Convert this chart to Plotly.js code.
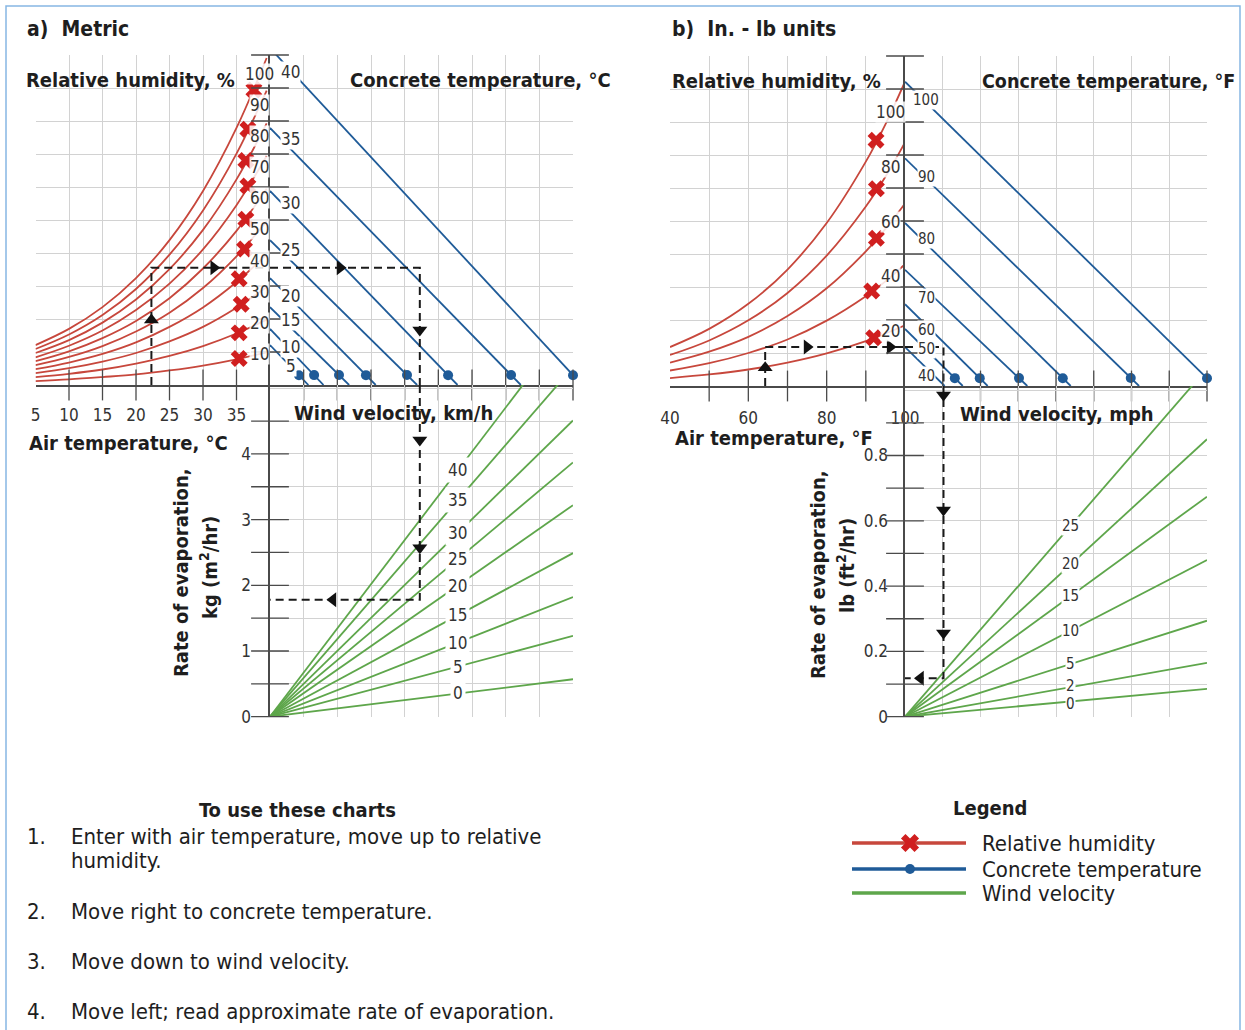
<!DOCTYPE html>
<html><head><meta charset="utf-8">
<script src="https://cdn.plot.ly/plotly-3.0.1.min.js"></script>
<style>html,body{margin:0;padding:0;background:#fff}#chart{width:1245px;height:1030px}</style>
</head><body><div id="chart"></div>
<script>
// ---------------- DATA: panel a (metric) ----------------
const airTempC = [5, 10, 15, 20, 25, 30, 35, 39.5];
const rhLevelsA = [100, 90, 80, 70, 60, 50, 40, 30, 20, 10];
const rhA100 = [1.21, 1.70, 2.36, 3.24, 4.39, 5.88, 7.79, 9.91];
const rhA90  = [1.09, 1.53, 2.12, 2.91, 3.95, 5.29, 7.01, 8.92];
const rhA80  = [0.97, 1.36, 1.89, 2.59, 3.51, 4.70, 6.23, 7.93];
const rhA70  = [0.84, 1.19, 1.65, 2.27, 3.07, 4.11, 5.45, 6.94];
const rhA60  = [0.72, 1.02, 1.42, 1.94, 2.63, 3.53, 4.67, 5.95];
const rhA50  = [0.60, 0.85, 1.18, 1.62, 2.19, 2.94, 3.90, 4.96];
const rhA40  = [0.48, 0.68, 0.94, 1.29, 1.76, 2.35, 3.12, 3.96];
const rhA30  = [0.36, 0.51, 0.71, 0.97, 1.32, 1.76, 2.34, 2.97];
const rhA20  = [0.24, 0.34, 0.47, 0.65, 0.88, 1.18, 1.56, 1.98];
const rhA10  = [0.12, 0.17, 0.24, 0.32, 0.44, 0.59, 0.78, 0.99];
const rhMarkTempA  = [37.6, 36.7, 36.4, 36.7, 36.4, 36.2, 35.4, 35.7, 35.4, 35.4];
const rhMarkLevelA = [8.94, 7.75, 6.80, 6.03, 5.02, 4.12, 3.22, 2.45, 1.58, 0.80];

const concTempC  = [5, 10, 15, 20, 25, 30, 35, 40];
const concStartA = [1.21, 1.70, 2.36, 3.24, 4.39, 5.88, 7.79, 10.21];
const concEndA   = [1.14, 1.59, 2.35, 3.14, 4.37, 5.57, 7.45, 9.27];
const concDotA   = [0.86, 1.31, 2.05, 2.85, 4.07, 5.29, 7.16, 9.0];

const windKmh   = [0, 5, 10, 15, 20, 25, 30, 35, 40];
const windRateA = [0.57, 1.23, 1.82, 2.49, 3.22, 3.87, 4.51, 5.32, 6.05];

const airTicksC  = [5, 10, 15, 20, 25, 30, 35];
const evapTicksA = [0, 1, 2, 3, 4];

const exampleA = {airTemp: 22.3, level: 3.55, wind: 4.45, rate: 1.78};

// ---------------- DATA: panel b (in.-lb) ----------------
const airTempF = [40, 50, 60, 70, 80, 90, 95, 100];
const rhLevelsB = [100, 80, 60, 40, 20];
const rhB100 = [1.18, 1.73, 2.49, 3.53, 4.94, 6.80, 7.93, 9.22];
const rhB80  = [0.94, 1.38, 1.99, 2.82, 3.95, 5.44, 6.34, 7.38];
const rhB60  = [0.71, 1.04, 1.49, 2.12, 2.96, 4.08, 4.76, 5.53];
const rhB40  = [0.47, 0.69, 1.00, 1.41, 1.98, 2.72, 3.17, 3.69];
const rhB20  = [0.24, 0.35, 0.50, 0.71, 0.99, 1.36, 1.59, 1.84];
const rhMarkTempB  = [92.6, 92.7, 92.7, 91.5, 92.0];
const rhMarkLevelB = [7.45, 5.98, 4.48, 2.88, 1.46];

const concTempF  = [40, 50, 60, 70, 80, 90, 100];
const concStartB = [1.18, 1.73, 2.48, 3.52, 4.94, 6.90, 9.22];
const concEndB   = [1.05, 1.53, 2.19, 3.24, 4.39, 6.20, 8.21];
const concDotB   = [null, 1.32, 1.98, 3.02, 4.18, 5.98, 8.0];

const windMph   = [0, 2, 5, 10, 15, 20, 25];
const windRateB = [0.085, 0.165, 0.294, 0.48, 0.674, 0.85, 1.066];

const airTicksF  = [40, 60, 80, 100];
const evapTicksB = [0, 0.2, 0.4, 0.6, 0.8];

const exampleB = {airTemp: 64.3, level: 1.18, wind: 1.02, rate: 0.118};

// ---------------- LABEL PLACEMENT (layout, not data) ----------------
const concLabelPosA = [0.58, 1.15, 1.97, 2.70, 4.09, 5.52, 7.45, 9.48];
const concLabelPosB = [0.30, 1.13, 1.71, 2.67, 4.45, 6.33, 8.67];
const windLabelShiftB = [-3, 1, 0, 0, 0, 0, 0];

// ---------------- STYLE ----------------
const W = 1245, H = 1030;
const FONT = "'Liberation Sans Narrow','DejaVu Sans Condensed','Arial Narrow',sans-serif";
const RED = '#c7473c', XRED = '#d01f1f', BLUE = '#1f5b98', GREEN = '#5ea64b', GRID = '#d2d2d2', AX = '#4a4a4a', TXT = '#1e1e1e';
const fx = p => p / W, fy = p => 1 - p / H;
const range = (a, b, s) => { const r = []; for (let v = a; v <= b + 1e-9; v += s) r.push(+v.toFixed(4)); return r; };

const traces = [];
function addLine(xa, ya, xs, ys, color, extra) {
  traces.push(Object.assign({type: 'scatter', mode: 'lines', xaxis: xa, yaxis: ya, x: xs, y: ys,
    line: {color: color, width: 1.8}, hoverinfo: 'skip'}, extra || {}));
}
function addMarkers(xa, ya, xs, ys, marker) {
  traces.push({type: 'scatter', mode: 'markers', xaxis: xa, yaxis: ya, x: xs, y: ys, marker: marker, cliponaxis: false, hoverinfo: 'skip'});
}
function tickMarks(xa, ya, xs, ys, sym, size) {
  addMarkers(xa, ya, xs, ys, {symbol: sym, size: size, color: AX, line: {color: AX, width: 1.3}});
}
const dashStyle = {line: {color: '#1a1a1a', width: 2, dash: '8px,5px'}};
function arrow(xa, ya, x, y, sym) {
  addMarkers(xa, ya, [x], [y], {symbol: sym, size: 13, color: '#111', line: {width: 0}});
}

// ---------- Panel a ----------
[rhA100, rhA90, rhA80, rhA70, rhA60, rhA50, rhA40, rhA30, rhA20, rhA10].forEach(arr =>
  addLine('x', 'y', airTempC, arr, RED, {line: {color: RED, width: 1.8, shape: 'spline', smoothing: 1}}));
addMarkers('x', 'y', rhMarkTempA, rhMarkLevelA, {symbol: 'x', size: 15, color: XRED, line: {width: 0}});

concTempC.forEach((t, i) => addLine('x2', 'y2', [0, concEndA[i]], [concStartA[i], 0], BLUE));
addMarkers('x2', 'y2', concDotA, concDotA.map((d, i) => concStartA[i] * (1 - d / concEndA[i])), {size: 10, color: BLUE});

windKmh.forEach((w, i) => addLine('x3', 'y3', [0, 9], [0, windRateA[i]], GREEN));

addLine('x', 'y', [exampleA.airTemp, exampleA.airTemp, 40], [0, exampleA.level, exampleA.level], '#222', dashStyle);
addLine('x2', 'y2', [0, exampleA.wind, exampleA.wind], [exampleA.level, exampleA.level, 0], '#222', dashStyle);
addLine('x3', 'y3', [exampleA.wind, exampleA.wind, 0], [5.05, exampleA.rate, exampleA.rate], '#222', dashStyle);
arrow('x', 'y', exampleA.airTemp, 1.97, 'triangle-up');
arrow('x', 'y', 31.6, exampleA.level, 'triangle-right');
arrow('x2', 'y2', 2.08, exampleA.level, 'triangle-right');
arrow('x2', 'y2', exampleA.wind, 1.67, 'triangle-down');
arrow('x3', 'y3', exampleA.wind, 4.21, 'triangle-down');
arrow('x3', 'y3', exampleA.wind, 2.57, 'triangle-down');
arrow('x3', 'y3', 1.87, exampleA.rate, 'triangle-left');

tickMarks('x2', 'y2', range(1, 10, 1).map(() => 0), range(1, 10, 1), 'line-ew', 27);
tickMarks('x3', 'y3', range(0, 4.5, 0.5).map(() => 0), range(0, 4.5, 0.5), 'line-ew', 27);
tickMarks('x', 'y', range(10, 35, 5), range(10, 35, 5).map(() => 0), 'line-ns', 22);
tickMarks('x2', 'y2', range(1, 9, 1), range(1, 9, 1).map(() => 0), 'line-ns', 22);

// ---------- Panel b ----------
[rhB100, rhB80, rhB60, rhB40, rhB20].forEach(arr =>
  addLine('x4', 'y4', airTempF, arr, RED, {line: {color: RED, width: 1.8, shape: 'spline', smoothing: 1}}));
addMarkers('x4', 'y4', rhMarkTempB, rhMarkLevelB, {symbol: 'x', size: 15, color: XRED, line: {width: 0}});

concTempF.forEach((t, i) => addLine('x5', 'y5', [0, concEndB[i]], [concStartB[i], 0], BLUE));
const dotIdxB = concDotB.map((d, i) => i).filter(i => concDotB[i] !== null);
addMarkers('x5', 'y5', dotIdxB.map(i => concDotB[i]), dotIdxB.map(i => concStartB[i] * (1 - concDotB[i] / concEndB[i])), {size: 10, color: BLUE});

windMph.forEach((w, i) => addLine('x6', 'y6', [0, 8], [0, windRateB[i]], GREEN));

addLine('x4', 'y4', [exampleB.airTemp, exampleB.airTemp, 100], [0, exampleB.level, exampleB.level], '#222', dashStyle);
addLine('x5', 'y5', [0, exampleB.wind, exampleB.wind], [exampleB.level, exampleB.level, 0], '#222', dashStyle);
addLine('x6', 'y6', [exampleB.wind, exampleB.wind, 0], [1.013, exampleB.rate, exampleB.rate], '#222', dashStyle);
arrow('x4', 'y4', exampleB.airTemp, 0.55, 'triangle-up');
arrow('x4', 'y4', 75, exampleB.level, 'triangle-right');
arrow('x4', 'y4', 96.2, exampleB.level, 'triangle-right');
arrow('x6', 'y6', exampleB.wind, 0.985, 'triangle-down');
arrow('x6', 'y6', exampleB.wind, 0.633, 'triangle-down');
arrow('x6', 'y6', exampleB.wind, 0.256, 'triangle-down');
arrow('x6', 'y6', 0.41, exampleB.rate, 'triangle-left');

tickMarks('x5', 'y5', range(1, 10, 1).map(() => 0), range(1, 10, 1), 'line-ew', 27);
tickMarks('x6', 'y6', range(0, 0.9, 0.1).map(() => 0), range(0, 0.9, 0.1), 'line-ew', 27);
tickMarks('x4', 'y4', range(50, 90, 10), range(50, 90, 10).map(() => 0), 'line-ns', 22);
tickMarks('x5', 'y5', range(1, 8, 1), range(1, 8, 1).map(() => 0), 'line-ns', 22);

// ---------- Legend samples (pixel overlay axis) ----------
addLine('x7', 'y7', [852, 966], [843, 843], RED, {line: {color: RED, width: 3.5}});
addLine('x7', 'y7', [852, 966], [869, 869], BLUE, {line: {color: BLUE, width: 3.5}});
addLine('x7', 'y7', [852, 966], [893, 893], GREEN, {line: {color: GREEN, width: 3.5}});
addMarkers('x7', 'y7', [910], [843], {symbol: 'x', size: 16, color: XRED, line: {width: 0}});
addMarkers('x7', 'y7', [910], [869], {size: 10, color: BLUE});

// ---------------- AXES ----------------
const TF = {family: FONT, size: 17, color: '#333'};
const base = {showgrid: true, gridcolor: GRID, gridwidth: 1, zeroline: false, showline: false, ticks: '',
  showticklabels: false, fixedrange: true, layer: 'below traces'};
const lineOn = {showline: true, linecolor: AX, linewidth: 1.6};
function labelled(vals, len, minorStep) {
  const o = {tickvals: vals, ticktext: vals.map(String), showticklabels: true, ticks: 'outside', ticklen: len,
    tickcolor: 'rgba(0,0,0,0)', tickfont: TF};
  if (minorStep) o.minor = {dtick: minorStep, tick0: 0, showgrid: true, gridcolor: GRID, gridwidth: 1, ticks: ''};
  return o;
}

const layout = {
  width: W, height: H, margin: {l: 0, r: 0, t: 0, b: 0}, paper_bgcolor: '#fff', plot_bgcolor: 'rgba(0,0,0,0)',
  showlegend: false, font: {family: FONT},
  xaxis: Object.assign({}, base, lineOn, {domain: [fx(35.5), fx(270)], range: [5, 40], anchor: 'y'},
    labelled(airTicksC, 14, null)),
  yaxis: Object.assign({}, base, {domain: [fy(385), fy(55)], range: [0, 10], anchor: 'x', tickvals: range(0, 10, 1)}),
  xaxis2: Object.assign({}, base, lineOn, {domain: [fx(270), fx(573)], range: [0, 9], anchor: 'y2', tickvals: range(0, 9, 1)}),
  yaxis2: Object.assign({}, base, lineOn, {domain: [fy(385), fy(55)], range: [0, 10], anchor: 'x2', tickvals: range(0, 10, 1)}),
  xaxis3: Object.assign({}, base, {domain: [fx(270), fx(573)], range: [0, 9], anchor: 'y3', tickvals: range(0, 9, 1)}),
  yaxis3: Object.assign({}, base, lineOn, {domain: [fy(716.7), fy(385)], range: [0, (716.7 - 385) / 65.7], anchor: 'x3'},
    labelled(evapTicksA, 14, 0.5)),
  xaxis4: Object.assign({}, base, lineOn, {domain: [fx(670), fx(905)], range: [40, 100], anchor: 'y4'},
    labelled(airTicksF, 16, 10)),
  yaxis4: Object.assign({}, base, {domain: [fy(386), fy(56)], range: [0, 10], anchor: 'x4', tickvals: range(0, 10, 1)}),
  xaxis5: Object.assign({}, base, lineOn, {domain: [fx(905), fx(1207)], range: [0, 8], anchor: 'y5', tickvals: range(0, 8, 1)}),
  yaxis5: Object.assign({}, base, lineOn, {domain: [fy(386), fy(56)], range: [0, 10], anchor: 'x5', tickvals: range(0, 10, 1)}),
  xaxis6: Object.assign({}, base, {domain: [fx(905), fx(1207)], range: [0, 8], anchor: 'y6', tickvals: range(0, 8, 1)}),
  yaxis6: Object.assign({}, base, lineOn, {domain: [fy(716.7), fy(386)], range: [0, (716.7 - 386) / 326.5], anchor: 'x6'},
    labelled(evapTicksB, 12, 0.1)),
  xaxis7: {domain: [0, 1], range: [0, W], anchor: 'y7', visible: false, fixedrange: true},
  yaxis7: {domain: [0, 1], range: [H, 0], anchor: 'x7', visible: false, fixedrange: true},
  shapes: [{type: 'rect', xref: 'paper', yref: 'paper', x0: fx(6), x1: fx(1240), y0: fy(6), y1: fy(1045),
    line: {color: '#86b6e4', width: 1.5}, fillcolor: 'rgba(0,0,0,0)'}],
  annotations: []
};

// ---------------- TEXT ----------------
const A = layout.annotations;
function txt(text, x, y, size, opts) {
  A.push(Object.assign({xref: 'paper', yref: 'paper', x: fx(x), y: fy(y), text: text, showarrow: false,
    xanchor: 'left', yanchor: 'middle', font: {family: FONT, size: size, color: TXT}}, opts || {}));
}
function lbl(xa, ya, x, y, text, opts) {
  A.push(Object.assign({xref: xa, yref: ya, x: x, y: y, text: String(text), showarrow: false,
    font: {family: FONT, size: 17, color: '#333'}, bgcolor: '#fff', borderpad: 0}, opts || {}));
}
const small = {family: FONT, size: 15, color: '#333'};

const rhEndA = [rhA100, rhA90, rhA80, rhA70, rhA60, rhA50, rhA40, rhA30, rhA20, rhA10].map(a => a[a.length - 1]);
rhLevelsA.forEach((r, i) => lbl('x', 'y', 38.4, rhEndA[i] * 0.95, r, {bgcolor: 'rgba(255,255,255,0.85)'}));
concTempC.forEach((t, i) => lbl('x2', 'y2', 0.62, concLabelPosA[i], t));
windKmh.forEach((w, i) => lbl('x3', 'y3', 5.58, windRateA[i] * 5.58 / 9, w, {borderpad: 2}));

const rhEndB = [rhB100, rhB80, rhB60, rhB40, rhB20].map(a => a[a.length - 1]);
rhLevelsB.forEach((r, i) => lbl('x4', 'y4', 96.3, rhEndB[i] * 0.9, r, {bgcolor: 'rgba(255,255,255,0.85)'}));
concTempF.forEach((t, i) => lbl('x5', 'y5', 0.56, concLabelPosB[i], t, {font: small}));
windMph.forEach((w, i) => lbl('x6', 'y6', 4.39, windRateB[i] * 4.39 / 8, w, {borderpad: 0, font: small, yshift: windLabelShiftB[i]}));

txt('<b>a)  Metric</b>', 25, 29, 21);
txt('<b>Relative humidity, %</b>', 24, 80, 20);
txt('<b>Concrete temperature, °C</b>', 348, 80, 20);
txt('<b>Air temperature, °C</b>', 27, 443, 20);
txt('<b>Wind velocity, km/h</b>', 292, 413, 20);
txt('<b>Rate of evaporation,</b>', 181, 573, 20, {xanchor: 'center', textangle: -90});
txt('<b>kg (m<sup>2</sup>/hr)</b>', 209, 568, 20, {xanchor: 'center', textangle: -90});

txt('<b>b)  In. - lb units</b>', 670, 29, 21);
txt('<b>Relative humidity, %</b>', 670, 81, 20);
txt('<b>Concrete temperature, °F</b>', 980, 81, 19.5);
txt('<b>Air temperature, °F</b>', 673, 438, 20);
txt('<b>Wind velocity, mph</b>', 958, 414, 20);
txt('<b>Rate of evaporation,</b>', 818, 575, 20, {xanchor: 'center', textangle: -90});
txt('<b>lb (ft<sup>2</sup>/hr)</b>', 846, 566, 20, {xanchor: 'center', textangle: -90});

txt('<b>To use these charts</b>', 297, 810, 20, {xanchor: 'center'});
txt('1.', 25, 836, 22); txt('Enter with air temperature, move up to relative', 69, 836, 22);
txt('humidity.', 69, 860, 22);
txt('2.', 25, 911, 22); txt('Move right to concrete temperature.', 69, 911, 22);
txt('3.', 25, 961, 22); txt('Move down to wind velocity.', 69, 961, 22);
txt('4.', 25, 1011, 22); txt('Move left; read approximate rate of evaporation.', 69, 1011, 22);

txt('<b>Legend</b>', 990, 808, 20, {xanchor: 'center'});
txt('Relative humidity', 980, 843, 22);
txt('Concrete temperature', 980, 869, 22);
txt('Wind velocity', 980, 893, 22);

Plotly.newPlot('chart', traces, layout, {staticPlot: true, displayModeBar: false});
</script>
</body></html>
